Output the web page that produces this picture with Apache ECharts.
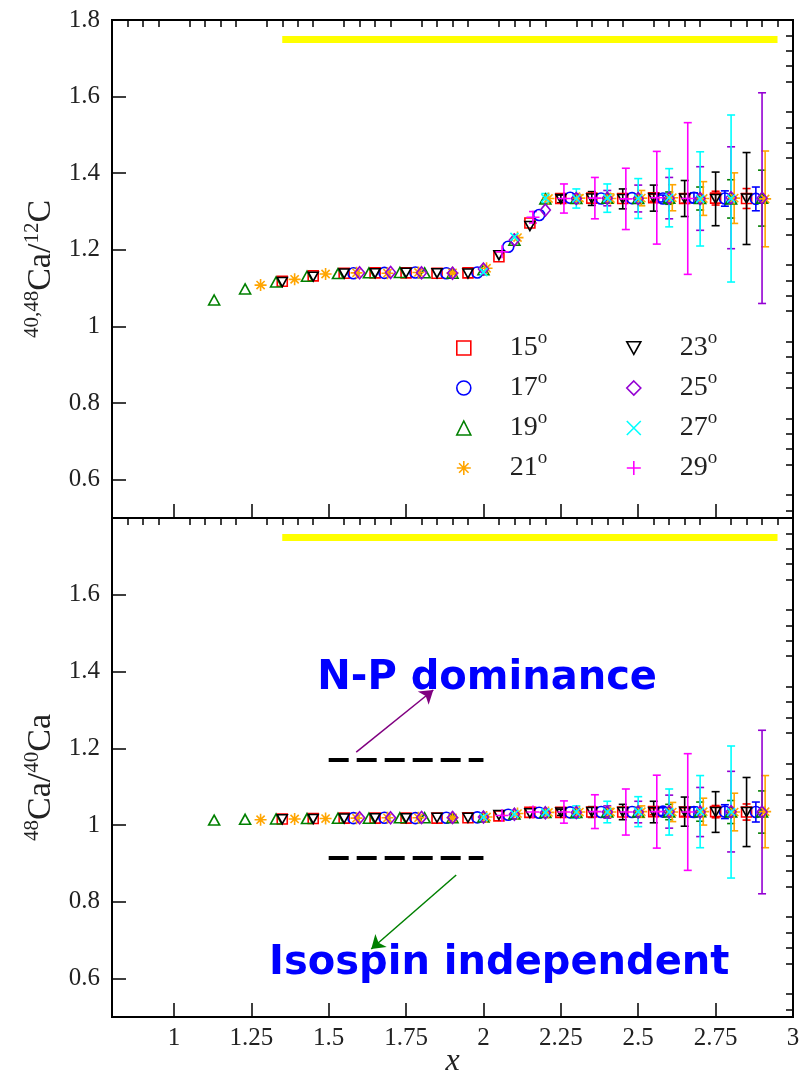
<!DOCTYPE html>
<html><head><meta charset="utf-8">
<script src="https://cdn.jsdelivr.net/npm/echarts@6/dist/echarts.min.js"></script>
<style>html,body{margin:0;padding:0;background:#fff}#c{width:802px;height:1077px}</style>
</head><body><div id="c"></div>
<script>
// ---------- data ----------
const angles = ['15°','17°','19°','21°','23°','25°','27°','29°'];

const x15 = [1.35,1.45,1.55,1.65,1.75,1.85,1.95,2.05,2.15,2.25,2.35,2.45,2.55,2.65,2.75,2.85];
const top15 = [1.118,1.132,1.139,1.140,1.140,1.139,1.140,1.182,1.270,1.334,1.335,1.334,1.336,1.334,1.335,1.334];
const errTop15 = [0,0,0,0,0,0,0,0.002,0.003,0.004,0.005,0.007,0.009,0.012,0.018,0.026];
const bot15 = [1.016,1.017,1.018,1.018,1.018,1.018,1.019,1.024,1.033,1.033,1.034,1.034,1.035,1.034,1.035,1.034];
const errBot15 = [0,0,0,0,0,0,0,0.002,0.003,0.004,0.005,0.006,0.008,0.011,0.016,0.021];

const x17 = [1.58,1.68,1.78,1.88,1.98,2.08,2.18,2.28,2.38,2.48,2.58,2.68,2.78,2.88];
const top17 = [1.139,1.140,1.141,1.139,1.141,1.208,1.291,1.336,1.334,1.335,1.334,1.336,1.334,1.333];
const errTop17 = [0,0,0,0,0,0.002,0.003,0.004,0.005,0.007,0.009,0.013,0.020,0.031];
const bot17 = [1.018,1.019,1.018,1.019,1.020,1.027,1.032,1.033,1.034,1.034,1.035,1.034,1.035,1.034];
const errBot17 = [0,0,0,0,0,0.002,0.003,0.004,0.005,0.007,0.010,0.013,0.018,0.026];

const x19 = [1.13,1.23,1.33,1.43,1.53,1.63,1.73,1.81,1.90,2.00,2.10,2.20,2.30,2.40,2.50,2.60,2.70,2.80,2.90];
const top19 = [1.069,1.098,1.116,1.131,1.138,1.140,1.141,1.140,1.139,1.148,1.225,1.333,1.334,1.335,1.334,1.335,1.334,1.333,1.335];
const errTop19 = [0,0,0,0,0,0,0,0,0,0.002,0.003,0.004,0.005,0.007,0.010,0.016,0.030,0.050,0.073];
const bot19 = [1.013,1.015,1.016,1.017,1.018,1.018,1.019,1.019,1.019,1.021,1.029,1.033,1.033,1.034,1.034,1.034,1.035,1.034,1.034];
const errBot19 = [0,0,0,0,0,0,0,0,0,0.002,0.003,0.004,0.005,0.008,0.012,0.020,0.025,0.030,0.055];

const x21 = [1.28,1.39,1.49,1.59,1.69,1.79,1.90,2.01,2.11,2.21,2.31,2.41,2.51,2.61,2.71,2.81,2.91];
const top21 = [1.108,1.123,1.137,1.140,1.139,1.141,1.140,1.152,1.232,1.334,1.335,1.334,1.335,1.336,1.334,1.335,1.333];
const errTop21 = [0,0,0,0,0,0,0,0.002,0.003,0.005,0.008,0.012,0.020,0.034,0.044,0.066,0.125];
const bot21 = [1.014,1.016,1.017,1.018,1.019,1.019,1.019,1.021,1.030,1.033,1.034,1.034,1.035,1.034,1.035,1.034,1.035];
const errBot21 = [0,0,0,0,0,0,0,0.002,0.003,0.004,0.006,0.009,0.015,0.025,0.035,0.049,0.094];

const x23 = [1.35,1.45,1.55,1.65,1.75,1.85,1.95,2.05,2.15,2.25,2.35,2.45,2.55,2.65,2.75,2.85];
const top23 = [1.116,1.130,1.138,1.139,1.140,1.139,1.138,1.186,1.262,1.333,1.334,1.333,1.335,1.334,1.333,1.334];
const errTop23 = [0,0,0,0,0,0,0,0.003,0.005,0.010,0.018,0.026,0.034,0.047,0.070,0.120];
const bot23 = [1.015,1.016,1.017,1.018,1.018,1.019,1.019,1.026,1.031,1.033,1.034,1.034,1.034,1.035,1.034,1.034];
const errBot23 = [0,0,0,0,0,0,0,0.003,0.004,0.008,0.014,0.020,0.028,0.038,0.053,0.090];

const x25 = [1.60,1.70,1.80,1.90,2.00,2.10,2.20,2.30,2.40,2.50,2.60,2.70,2.80,2.90];
const top25 = [1.140,1.141,1.140,1.139,1.150,1.226,1.304,1.334,1.335,1.334,1.335,1.334,1.336,1.335];
const errTop25 = [0,0,0,0,0.002,0.004,0.007,0.012,0.020,0.035,0.054,0.083,0.133,0.275];
const bot25 = [1.019,1.019,1.020,1.020,1.021,1.028,1.032,1.033,1.034,1.034,1.035,1.034,1.035,1.034];
const errBot25 = [0,0,0,0,0.002,0.003,0.005,0.009,0.016,0.028,0.043,0.064,0.105,0.213];

const x27 = [2.00,2.10,2.20,2.30,2.40,2.50,2.60,2.70,2.80];
const top27 = [1.142,1.234,1.335,1.334,1.335,1.334,1.336,1.333,1.334];
const errTop27 = [0.003,0.006,0.012,0.025,0.037,0.052,0.076,0.123,0.218];
const bot27 = [1.021,1.029,1.033,1.034,1.034,1.035,1.034,1.035,1.034];
const errBot27 = [0.002,0.004,0.008,0.016,0.028,0.039,0.060,0.094,0.172];

const x29 = [2.06,2.16,2.26,2.36,2.46,2.56,2.66];
const top29 = [1.195,1.285,1.334,1.335,1.333,1.336,1.334];
const errTop29 = [0.006,0.015,0.038,0.054,0.080,0.121,0.198];
const bot29 = [1.025,1.034,1.034,1.035,1.034,1.035,1.034];
const errBot29 = [0.005,0.012,0.029,0.044,0.060,0.095,0.152];

// tick labels
const xTickLabels = [1,1.25,1.5,1.75,2,2.25,2.5,2.75,3];
const yTickLabelsTop = [0.6,0.8,1,1.2,1.4,1.6,1.8];
const yTickLabelsBot = [0.6,0.8,1,1.2,1.4,1.6];

// annotations (data coordinates of lower panel unless noted)
const yellowBand = [[1.35,1.75],[2.95,1.75]];           // both panels
const dashUpper = [[1.5,1.17],[2.0,1.17]];
const dashLower = [[1.5,0.915],[2.0,0.915]];
const arrowNP = [[1.589,1.19],[1.838,1.352]];
const arrowIso = [[1.912,0.87],[1.6375,0.677]];
const textNP = ['N-P dominance', 2.012, 1.381];
const textIso = ['Isospin independent', 2.051, 0.638];

// ---------- styling ----------
const colors = ['#ff0000','#0000ff','#008000','#ffa500','#000000','#9400d3','#00ffff','#ff00ff'];
const symbols = ['rect','circle','triangle',
  'path://M5,0L5,10M0,5L10,5M1.6,1.6L8.4,8.4M8.4,1.6L1.6,8.4',
  'path://M0,0L10,0L5,9Z','diamond',
  'path://M0,0L10,10M10,0L0,10',
  'path://M5,0L5,10M0,5L10,5'];
const symSizes = [10, 11, [11,10], 12, [10,9], [10,12], 8, 13];
const SERIF = "'Liberation Serif','DejaVu Serif',serif";

const XS = [x15,x17,x19,x21,x23,x25,x27,x29];
const TOP = [top15,top17,top19,top21,top23,top25,top27,top29];
const ETOP = [errTop15,errTop17,errTop19,errTop21,errTop23,errTop25,errTop27,errTop29];
const BOT = [bot15,bot17,bot19,bot21,bot23,bot25,bot27,bot29];
const EBOT = [errBot15,errBot17,errBot19,errBot21,errBot23,errBot25,errBot27,errBot29];

function minorValues(lo, hi, step, majors) {
  const out = [];
  const n = Math.round((hi - lo) / step);
  for (let i = 0; i <= n; i++) {
    const v = Math.round((lo + i * step) * 1000) / 1000;
    if (!majors.some(m => Math.abs(m - v) < 1e-6)) out.push(v);
  }
  return out;
}
const xMinor = minorValues(0.8, 3.0, 0.05, xTickLabels);
const yMinor = minorValues(0.52, 1.8, 0.04, [0.6,0.8,1,1.2,1.4,1.6,1.8]);

const tickLS = {color:'#000', width:1.5};
function xAxisPair(gi, withLabels) {
  return [
    {gridIndex:gi, type:'value', min:0.8, max:3,
     name: withLabels ? 'x' : '', nameLocation:'middle', nameGap:29, nameMoveOverlap:false,
     nameTextStyle:{fontFamily:SERIF, fontStyle:'italic', fontSize:32, color:'#222'},
     axisLine:{show:true, onZero:false, lineStyle:{color:'#000', width:2}},
     axisTick:{show:true, inside:true, length:14, customValues:xTickLabels, lineStyle:tickLS},
     axisLabel:{show:withLabels, customValues:xTickLabels, margin:9, fontFamily:SERIF, fontSize:25, color:'#222',
                showMinLabel:true, showMaxLabel:true, formatter:v=>String(+(+v).toFixed(2))},
     splitLine:{show:false}},
    {gridIndex:gi, type:'value', min:0.8, max:3,
     axisLine:{show:false}, axisLabel:{show:false}, splitLine:{show:false},
     axisTick:{show:true, inside:true, length:7, customValues:xMinor, lineStyle:tickLS}}
  ];
}
function yAxisPair(gi, labels, name) {
  return [
    {gridIndex:gi, type:'value', min:0.5, max:1.8,
     name:name, nameLocation:'middle', nameRotate:90, nameGap:50,
     nameTextStyle:{fontFamily:SERIF, color:'#222',
       rich:{n:{fontFamily:SERIF, fontSize:34, lineHeight:38, color:'#222'},
             s:{fontFamily:SERIF, fontSize:21, verticalAlign:'top', color:'#222'},
             p:{width:20}}},
     axisLine:{show:true, onZero:false, lineStyle:{color:'#000', width:2}},
     axisTick:{show:true, inside:true, length:14, customValues:[0.6,0.8,1,1.2,1.4,1.6,1.8], lineStyle:tickLS},
     axisLabel:{customValues:labels, margin:12, fontFamily:SERIF, fontSize:25, color:'#222',
                showMinLabel:true, showMaxLabel:true, formatter:v=>String(+(+v).toFixed(2))},
     splitLine:{show:false}},
    {gridIndex:gi, type:'value', min:0.5, max:1.8,
     axisLine:{show:false}, axisLabel:{show:false}, splitLine:{show:false},
     axisTick:{show:true, inside:true, length:7, customValues:yMinor, lineStyle:tickLS}}
  ];
}

function errSeries(xs, ys, es, color, xi, yi, name) {
  return {type:'custom', name:name, xAxisIndex:xi, yAxisIndex:yi, z:2, silent:true,
    data: xs.map((x,k)=>[x, ys[k], es[k]]),
    encode:{x:0, y:1},
    renderItem(params, api){
      const x=api.value(0), y=api.value(1), e=api.value(2);
      const a=api.coord([x,y+e]), b=api.coord([x,y-e]);
      if (!(b[1]-a[1] >= 6)) return {type:'group', children:[]};
      const w=4;
      const st={stroke:color, lineWidth:1.6, fill:null};
      return {type:'group', children:[
        {type:'line', shape:{x1:a[0],y1:a[1],x2:b[0],y2:b[1]}, style:st},
        {type:'line', shape:{x1:a[0]-w,y1:a[1],x2:a[0]+w,y2:a[1]}, style:st},
        {type:'line', shape:{x1:b[0]-w,y1:b[1],x2:b[0]+w,y2:b[1]}, style:st}]};
    }};
}
function scatSeries(i, ys, xi, yi) {
  return {type:'scatter', name:angles[i], xAxisIndex:xi, yAxisIndex:yi, z:3, silent:true,
    symbol:symbols[i], symbolSize:symSizes[i],
    itemStyle:{color:'rgba(0,0,0,0)', borderColor:colors[i], borderWidth:1.6, opacity:1},
    data: XS[i].map((x,k)=>[x, ys[k]])};
}

const series = [];
for (let i = 0; i < 8; i++) {
  series.push(errSeries(XS[i], TOP[i], ETOP[i], colors[i], 0, 0, angles[i]+' errTop'));
  series.push(errSeries(XS[i], BOT[i], EBOT[i], colors[i], 2, 2, angles[i]+' errBot'));
}
for (let i = 0; i < 8; i++) {
  series.push(scatSeries(i, TOP[i], 0, 0));
  series.push(scatSeries(i, BOT[i], 2, 2));
}
function lineMark(xi, yi, segs, ls, sym, name) {
  return {type:'line', name:name, xAxisIndex:xi, yAxisIndex:yi, data:[], silent:true, z:4,
    markLine:{silent:true, symbol:sym, symbolSize:13, label:{show:false}, lineStyle:ls, animation:false,
      emphasis:{disabled:true},
      data: segs.map(s=>[{coord:s[0]},{coord:s[1]}])}};
}
series.push(lineMark(0,0,[yellowBand],{color:'#ffff00', width:7, type:'solid'},['none','none'],'yt'));
series.push(lineMark(2,2,[yellowBand],{color:'#ffff00', width:7, type:'solid'},['none','none'],'yb'));
series.push(lineMark(2,2,[dashUpper,dashLower],{color:'#000', width:4, type:[20,8]},['none','none'],'dash'));
series.push(lineMark(2,2,[arrowNP],{color:'#800080', width:1.5, type:'solid'},['none','arrow'],'anp'));
series.push(lineMark(2,2,[arrowIso],{color:'#008000', width:1.5, type:'solid'},['none','arrow'],'aiso'));

function legendCol(idx, left) {
  return {orient:'vertical', left:left, top:329, itemWidth:14, itemHeight:14, itemGap:7,
    selectedMode:false, padding:0,
    data: idx.map(i=>({name:angles[i], icon:symbols[i],
      itemStyle:{color:'rgba(0,0,0,0)', borderColor:colors[i], borderWidth:1.6}})),
    formatter: n => '{p| }{n|' + n.replace('°','') + '}{s|o}',
    textStyle:{rich:{
      p:{width:34},
      n:{fontFamily:SERIF, fontSize:28, lineHeight:38, color:'#222'},
      s:{fontFamily:SERIF, fontSize:19, verticalAlign:'top', color:'#222'}}}};
}

const option = {
  animation:false,
  backgroundColor:'#fff',
  grid:[
    {left:112, right:9, top:20, height:498, show:true, borderColor:'#000', borderWidth:2,
     backgroundColor:'rgba(0,0,0,0)', outerBoundsMode:'none', containLabel:false},
    {left:112, right:9, top:518, height:499, show:true, borderColor:'#000', borderWidth:2,
     backgroundColor:'rgba(0,0,0,0)', outerBoundsMode:'none', containLabel:false}
  ],
  xAxis: [...xAxisPair(0,false), ...xAxisPair(1,true)],
  yAxis: [...yAxisPair(0, yTickLabelsTop, '{s|40,48}{n|Ca/}{s|12}{n|C}'),
          ...yAxisPair(1, yTickLabelsBot, '{s|48}{n|Ca/}{s|40}{n|Ca}{p| }')],
  legend:[legendCol([0,1,2,3],456), legendCol([4,5,6,7],626)],
  series: series
};

const chart = echarts.init(document.getElementById('c'), null, {renderer:'canvas'});
chart.setOption(option);

function annText(t) {
  const p = chart.convertToPixel({xAxisIndex:2, yAxisIndex:2}, [t[1], t[2]]);
  return {type:'text', x:p[0], y:p[1], z:10, silent:true,
    style:{text:t[0], font:'bold 40px "DejaVu Sans", sans-serif', fill:'#0000ff',
      align:'center', verticalAlign:'middle', textAlign:'center', textVerticalAlign:'middle'}};
}
chart.setOption({graphic:[annText(textNP), annText(textIso)]});
</script>
</body></html>
